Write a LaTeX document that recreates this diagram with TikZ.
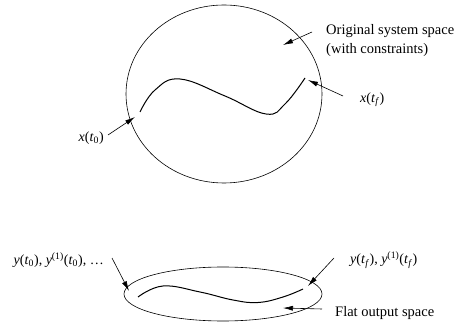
\documentclass[tikz,border=0pt]{standalone}
\usepackage{fontspec}
\setmainfont{Liberation Serif}
\usetikzlibrary{arrows.meta}
\tikzset{
  outline/.style={draw=black, line width=0.6pt},
  traj/.style={draw=black, line width=1pt},
  pointer/.style={draw=black, line width=0.6pt, -{Latex[length=10pt,width=5pt]}},
  lbl/.style={font=\fontsize{14.5}{19}\selectfont, inner sep=0pt},
  mlbl/.style={font=\fontsize{14}{18}\selectfont, inner sep=0pt}
}
\begin{document}
\begin{tikzpicture}[x=1pt,y=-1pt]
\useasboundingbox (0,0) rectangle (468,328);
% upper space
\draw[outline] (224,94) ellipse [x radius=98, y radius=89];
\draw[traj] plot[smooth, tension=0.7] coordinates {(140,112) (155,90) (180,79) (225,96) (266,114) (285,104) (305,78)};
% lower space
\draw[outline] (223,294) ellipse [x radius=99, y radius=27];
\draw[traj] plot[smooth, tension=0.7] coordinates {(138,297) (163,286) (200,292) (233,300) (258,302.5) (283,297) (303,289)};
% labels
\node[mlbl, anchor=east] (x0) at (104,138) {\textit{x}(\textit{t}\textsubscript{0})};
\node[mlbl, anchor=west] (xf) at (360,100) {\textit{x}(\textit{t}\textsubscript{\textit{f}})};
\node[lbl, anchor=north west, align=left] (orig) at (326,24) {Original system space\\(with constraints)};
\node[mlbl, anchor=east] (y0) at (104,260) {\textit{y}(\textit{t}\textsubscript{0}), \textit{y}\textsuperscript{(1)}(\textit{t}\textsubscript{0}), \dots};
\node[mlbl, anchor=west] (yf) at (350,260) {\textit{y}(\textit{t}\textsubscript{\textit{f}}), \textit{y}\textsuperscript{(1)}(\textit{t}\textsubscript{\textit{f}})};
\node[lbl, anchor=west] (flat) at (335,313) {Flat output space};
% arrow endpoints
\coordinate (x0t) at (108,135);
\coordinate (x0h) at (135,117);
\coordinate (xft) at (343,96);
\coordinate (xfh) at (308,80);
\coordinate (ot) at (312,32);
\coordinate (oh) at (283,45);
\coordinate (y0t) at (112,258);
\coordinate (y0h) at (129,291);
\coordinate (yft) at (334,258);
\coordinate (yfh) at (308,286);
\coordinate (ft) at (322,309);
\coordinate (fh) at (283,308);
\draw[pointer] (x0t) -- (x0h);
\draw[pointer] (xft) -- (xfh);
\draw[pointer] (ot) -- (oh);
\draw[pointer] (y0t) -- (y0h);
\draw[pointer] (yft) -- (yfh);
\draw[pointer] (ft) -- (fh);
\end{tikzpicture}
\end{document}
